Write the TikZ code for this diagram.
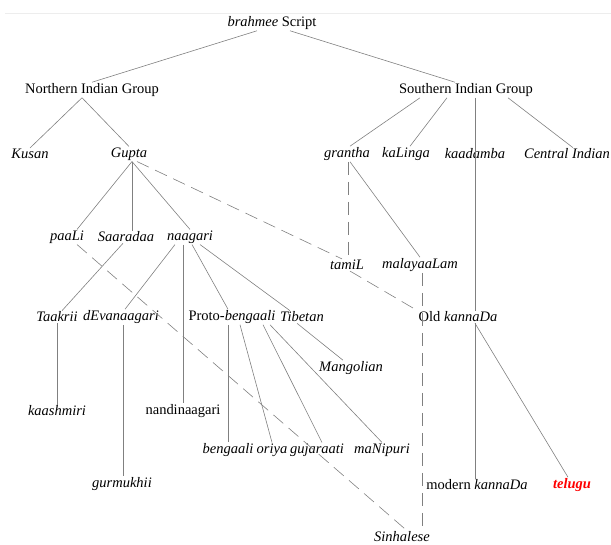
\documentclass[tikz,border=0pt]{standalone}
\usepackage{fontspec}
\setmainfont{Liberation Serif}
\begin{document}
\begin{tikzpicture}[x=1pt,y=-1pt,
  lbl/.style={inner sep=1pt,anchor=center,font=\fontsize{14.5}{16}\selectfont},
  it/.style={lbl,font=\fontsize{14.5}{16}\selectfont\itshape},
  edge/.style={draw=black!50,line width=0.6pt},
  dedge/.style={edge,dash pattern=on 13pt off 7pt}]
\useasboundingbox (0,0) rectangle (611,545);
\draw[black!7,line width=0.6pt] (5,13) -- (611,13);
% nodes
\node[lbl] (brah) at (272,23) {\textit{brahmee} Script};
\node[lbl] (nig) at (92,90) {Northern Indian Group};
\node[lbl] (sig) at (466,90) {Southern Indian Group};
\node[it] (kusan) at (30,154) {Kusan};
\node[it] (gupta) at (129,154) {Gupta};
\node[it] (gran) at (347,154) {grantha};
\node[it] (kal) at (406,154) {kaLinga};
\node[it] (kaad) at (475,154) {kaadamba};
\node[it] (cen) at (567,154) {Central Indian};
\node[it] (paali) at (67,237) {paaLi};
\node[it] (saar) at (126,237) {Saaradaa};
\node[it] (naag) at (190,237) {naagari};
\node[it] (tamil) at (347,265) {tamiL};
\node[it] (mal) at (420,265) {malayaaLam};
\node[it] (taak) at (57,317) {Taakrii};
\node[it] (dev) at (121,317) {dEvanaagari};
\node[lbl] (proto) at (232,317) {Proto-\textit{bengaali}};
\node[it] (tib) at (302,317) {Tibetan};
\node[lbl] (oldk) at (458,317) {Old \textit{kannaDa}};
\node[it] (mang) at (351,368) {Mangolian};
\node[it] (kaash) at (57,411) {kaashmiri};
\node[lbl] (nand) at (183,411) {nandinaagari};
\node[it] (beng) at (228,450) {bengaali};
\node[it] (oriya) at (272,450) {oriya};
\node[it] (guj) at (317,450) {gujaraati};
\node[it] (mani) at (382,450) {maNipuri};
\node[it] (gurm) at (122,484) {gurmukhii};
\node[lbl] (modk) at (477,485) {modern \textit{kannaDa}};
\node[it,text=red,font=\fontsize{14.5}{16}\selectfont\itshape\bfseries] (tel) at (572,485) {telugu};
\node[it] (sinh) at (402,537) {Sinhalese};
% solid edges
\draw[edge] ([xshift=-15pt]brah.south) -- (nig.north);
\draw[edge] ([xshift=18pt]brah.south) -- ([xshift=-11pt]sig.north);
\draw[edge] ([xshift=-10pt]nig.south) -- (kusan.north);
\draw[edge] ([xshift=-10pt]nig.south) -- (gupta.north);
\draw[edge] ([xshift=-46pt]sig.south) -- ([xshift=3pt]gran.north);
\draw[edge] ([xshift=-19pt]sig.south) -- ([xshift=4pt]kal.north);
\draw[edge] (sig.south -| kaad) -- (oldk.north -| kaad);
\draw[edge] ([xshift=42pt]sig.south) -- ([xshift=6pt]cen.north);
\draw[edge] ([xshift=3pt]gupta.south) -- ([xshift=10pt]paali.north);
\draw[edge] ([xshift=3pt]gupta.south) -- ([xshift=3pt]gupta.south |- saar.north);
\draw[edge] ([xshift=3pt]gupta.south) -- (naag.north);
\draw[edge] ([xshift=-3pt]saar.south) -- ([xshift=5pt]taak.north);
\draw[edge] ([xshift=-15pt]naag.south) -- ([xshift=4pt]dev.north);
\draw[edge] (naag.south -| nand) -- (nand.north);
\draw[edge] ([xshift=2pt]naag.south) -- ([xshift=-4pt]proto.north);
\draw[edge] ([xshift=10pt]naag.south) -- ([xshift=-12pt]tib.north);
\draw[edge] (taak.south) -- (kaash.north);
\draw[edge] ([xshift=2pt]dev.south) -- ([xshift=1pt]gurm.north);
\draw[edge] (proto.south -| beng) -- (beng.north);
\draw[edge] ([xshift=8pt]proto.south) -- (oriya.north);
\draw[edge] ([xshift=31pt]proto.south) -- ([xshift=5pt]guj.north);
\draw[edge] ([xshift=38pt]proto.south) -- (mani.north);
\draw[edge] ([xshift=-5pt]tib.south) -- ([xshift=-8pt]mang.north);
\draw[edge] ([xshift=3pt]gran.south) -- (mal.north);
\draw[edge] (oldk.south -| kaad) -- (modk.north -| kaad);
\draw[edge] ([xshift=17pt]oldk.south) -- ([xshift=-4pt]tel.north);
% dashed edges
\draw[dedge] ([xshift=8pt]gupta.south) -- ([xshift=-5pt]tamil.north);
\draw[dedge] ([xshift=3pt]tamil.south) -- (oldk.north west);
\draw[dedge] ([xshift=10pt]paali.south) -- ([xshift=5pt]sinh.north);
\draw[dedge] ([xshift=1pt]gran.south) -- ([xshift=1pt]gran.south |- tamil.north);
\draw[dedge] ([xshift=2pt]mal.south) -- ([xshift=2pt]mal.south |- sinh.north);
\end{tikzpicture}
\end{document}
